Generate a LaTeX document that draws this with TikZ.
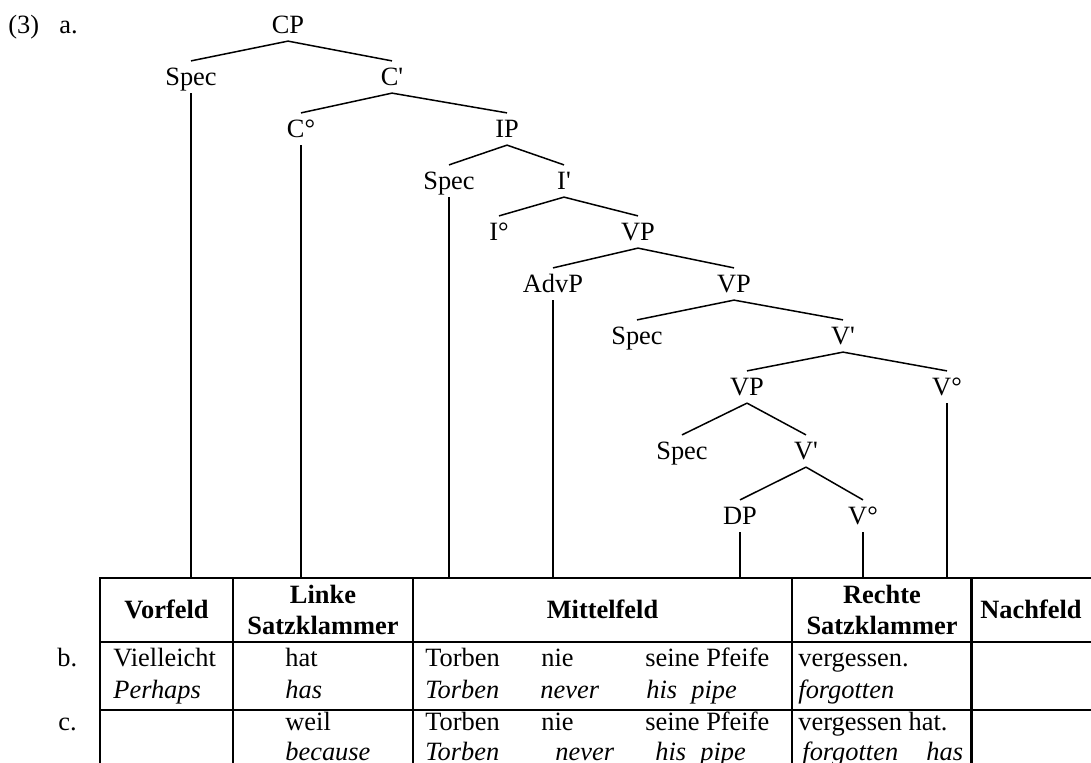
\documentclass[tikz,border=0pt]{standalone}
\usepackage{fontspec}
\setmainfont{Liberation Serif}[Scale=1.32]
\usepackage{tikz}

\begin{document}
\begin{tikzpicture}[x=0.5pt, y=-0.5pt,
		cat/.style={inner xsep=1pt, inner ysep=3.5pt, text height=0.66em, text depth=0pt},
		branch/.style={line width=0.75pt},
		tabrule/.style={line width=1.15pt},
		celltext/.style={inner sep=0pt, anchor=base west},
		gloss/.style={celltext, font=\itshape},
		headtext/.style={inner sep=0pt, anchor=base, align=center, font=\bfseries}]
			\useasboundingbox (0,0) rectangle (1091,762);
			\clip (0,0) rectangle (1091,762);
			\node[celltext] (exno) at (8,33) {(3)};
			\node[celltext] (la) at (59,33) {a.};

			\node[cat] (cp) at (288,25) {CP};
			\node[cat] (cspec) at (191,77) {Spec};
			\node[cat] (cbar) at (392,77) {C\textquotesingle};
			\node[cat] (chead) at (301,129) {C°};
			\node[cat] (ip) at (507,129) {IP};
			\node[cat] (ispec) at (449,181) {Spec};
			\node[cat] (ibar) at (564,181) {I\textquotesingle};
			\node[cat] (ihead) at (499,232) {I°};
			\node[cat] (vpa) at (638,232) {VP};
			\node[cat] (advp) at (553,284) {AdvP};
			\node[cat] (vpb) at (734,284) {VP};
			\node[cat] (vspeca) at (637,336) {Spec};
			\node[cat] (vbara) at (843,336) {V\textquotesingle};
			\node[cat] (vpc) at (747,387) {VP};
			\node[cat] (vheada) at (947,387) {V°};
			\node[cat] (vspecb) at (682,451) {Spec};
			\node[cat] (vbarb) at (806,451) {V\textquotesingle};
			\node[cat] (dp) at (740,516) {DP};
			\node[cat] (vheadb) at (863,516) {V°};

			\foreach \a/\b in {cp/cspec, cp/cbar, cbar/chead, cbar/ip, ip/ispec, ip/ibar, ibar/ihead, ibar/vpa, vpa/advp, vpa/vpb, vpb/vspeca, vpb/vbara, vbara/vpc, vbara/vheada, vpc/vspecb, vpc/vbarb, vbarb/dp, vbarb/vheadb}
				\draw[branch] (\a.south) -- (\b.north);

			\coordinate (ttop) at (0,578);
			\foreach \n in {cspec, chead, ispec, advp, dp, vheadb, vheada}
				\draw[branch] (\n.south) -- (\n.south |- ttop);

			\foreach \y in {578,642,710}
				\draw[tabrule] (99.4,\y) -- (1095,\y);
			\foreach \x in {100,233,413,792,971.5}
				\draw[tabrule] (\x,578) -- (\x,775);

			\node[headtext] (vf) at (166.5,618) {Vorfeld};
			\node[headtext] (lsk) at (323,634) {Linke\\[3.5pt]Satzklammer};
			\node[headtext] (mf) at (602.5,618) {Mittelfeld};
			\node[headtext] (rsk) at (882,634) {Rechte\\[3.5pt]Satzklammer};
			\node[headtext] (nf) at (1031,618) {Nachfeld};

			\node[celltext] (lb) at (57,666) {b.};
			\node[celltext] (b1) at (113,666) {Vielleicht};
			\node[gloss] (b1g) at (113,698) {Perhaps};
			\node[celltext] (b2) at (285,666) {hat};
			\node[gloss] (b2g) at (285,698) {has};
			\node[celltext] (b3) at (425,666) {Torben};
			\node[gloss] (b3g) at (425,698) {Torben};
			\node[celltext] (b4) at (541,666) {nie};
			\node[gloss] (b4g) at (540,698) {never};
			\node[celltext] (b5) at (645,666) {seine Pfeife};
			\node[gloss] (b5g) at (646,698) {his};
			\node[gloss] (b6g) at (691,698) {pipe};
			\node[celltext] (b7) at (798,666) {vergessen.};
			\node[gloss] (b7g) at (798,698) {forgotten};

			\node[celltext] (lc) at (58,730) {c.};
			\node[celltext] (c2) at (285,730) {weil};
			\node[gloss] (c2g) at (285,760) {because};
			\node[celltext] (c3) at (425,730) {Torben};
			\node[gloss] (c3g) at (425,760) {Torben};
			\node[celltext] (c4) at (541,730) {nie};
			\node[gloss] (c4g) at (555,760) {never};
			\node[celltext] (c5) at (645,730) {seine Pfeife};
			\node[gloss] (c5g) at (655,760) {his};
			\node[gloss] (c6g) at (700,760) {pipe};
			\node[celltext] (c7) at (798,730) {vergessen hat.};
			\node[gloss] (c7g) at (802,760) {forgotten};
			\node[gloss] (c8g) at (926,760) {has};
		\end{tikzpicture}
\end{document}
